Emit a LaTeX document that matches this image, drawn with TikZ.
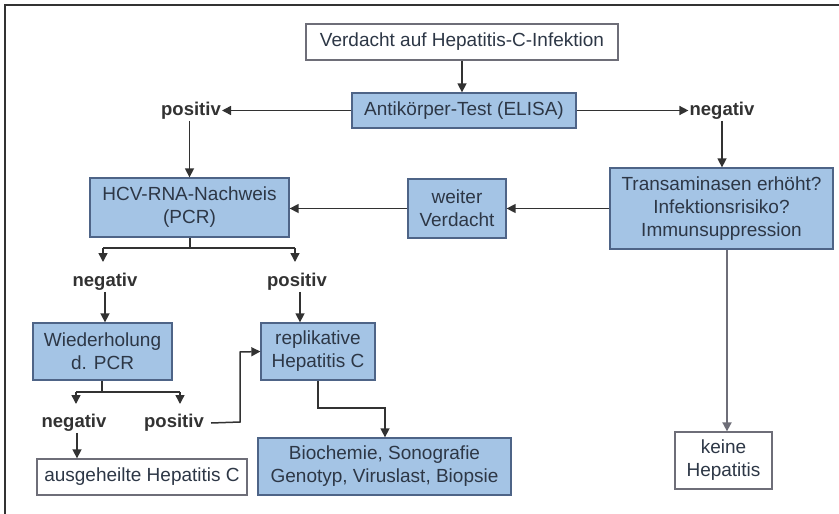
\documentclass[tikz,border=0pt]{standalone}
\usepackage{fontspec}
\setmainfont{Liberation Sans}
\usetikzlibrary{arrows.meta}
\definecolor{boxblue}{RGB}{164,196,229}
\definecolor{boxedge}{RGB}{78,100,135}
\definecolor{txt}{RGB}{45,55,70}
\definecolor{wedge}{RGB}{110,110,120}
\definecolor{ln}{RGB}{50,50,50}
\tikzset{
  bluebox/.style={draw=boxedge, line width=1.3pt, fill=boxblue, text=txt, align=center, inner sep=0pt,
    font=\fontsize{19}{23}\selectfont},
  whitebox/.style={draw=wedge, line width=1.3pt, fill=white, text=txt, align=center, inner sep=0pt,
    font=\fontsize{19}{23}\selectfont},
  lbl/.style={font=\bfseries\fontsize{18.5}{22}\selectfont, text=ln, inner sep=1pt},
  conn/.style={draw=ln, line width=1.5pt, -{Triangle[length=9pt,width=9pt]}},
  plain/.style={draw=ln, line width=1.5pt}
}
\begin{document}
\begin{tikzpicture}[x=1pt,y=-1pt]
\useasboundingbox (0,0) rectangle (839,514);
% frame (top and left only)
\draw[line width=1.5pt, ln] (5,514) -- (5,5) -- (839,5);

% boxes
\node[whitebox, minimum width=312pt, minimum height=36pt] (verd) at (462,42) {Verdacht auf Hepatitis-C-Infektion};
\node[bluebox, minimum width=224pt, minimum height=35pt] (anti) at (464,110.5) {Antikörper-Test (ELISA)};
\node[bluebox, minimum width=199pt, minimum height=59pt] (hcv) at (189.5,207.5) {HCV-RNA-Nachweis\\(PCR)};
\node[bluebox, minimum width=98pt, minimum height=59pt] (weiter) at (457,208.5) {weiter\\Verdacht};
\node[bluebox, minimum width=223pt, minimum height=81pt] (trans) at (721.5,208.5) {Transaminasen erhöht?\\Infektionsrisiko?\\Immunsuppression};
\node[whitebox, minimum width=97pt, minimum height=57pt] (keine) at (723.5,460.5) {keine\\Hepatitis};
\node[bluebox, minimum width=139pt, minimum height=57pt] (wied) at (102.5,351.5) {Wiederholung\\d. PCR};
\node[bluebox, minimum width=114pt, minimum height=57pt] (repl) at (318,351.5) {replikative\\Hepatitis C};
\node[whitebox, minimum width=210pt, minimum height=36pt] (aus) at (142,477) {ausgeheilte Hepatitis C};
\node[bluebox, minimum width=253pt, minimum height=57pt] (bio) at (384.5,466.5) {Biochemie, Sonografie\\Genotyp, Viruslast, Biopsie};

% labels
\node[lbl] (pos1) at (191,111) {positiv};
\node[lbl] (neg1) at (722,111) {negativ};
\node[lbl] (neg2) at (105,282) {negativ};
\node[lbl] (pos2) at (297,282) {positiv};
\node[lbl] (neg3) at (74,423) {negativ};
\node[lbl] (pos3) at (174,423) {positiv};

% helper coordinates
\coordinate (s1) at (190,248);
\coordinate (s1l) at (103,248);
\coordinate (s1r) at (295,248);
\coordinate (s1le) at (103,262);
\coordinate (s1re) at (295,262);
\coordinate (s2) at (102,392);
\coordinate (s2l) at (76,392);
\coordinate (s2r) at (180,392);
\coordinate (s2le) at (76,404);
\coordinate (s2re) at (180,404);
\coordinate (p3a) at (240,422);
\coordinate (p3b) at (240,352);
\coordinate (r1) at (318,408);
\coordinate (r2) at (385,408);

% connectors
\draw[conn] (verd.south) -- (verd.south |- anti.north);
\draw[conn] (anti.west) -- (anti.west -| pos1.east);
\draw[conn] (anti.east) -- (anti.east -| neg1.west);
\draw[conn] (pos1.south -| hcv.north) -- (hcv.north);
\draw[conn] (neg1.south) -- (neg1.south |- trans.north);
\draw[conn] (trans.west |- weiter.east) -- (weiter.east);
\draw[conn] (weiter.west) -- (weiter.west -| hcv.east);
\draw[conn, draw=wedge, line width=1.8pt] (trans.south -| 727,0) -- (keine.north -| 727,0);

\draw[plain] (hcv.south -| s1) -- (s1);
\draw[plain] (s1l) -- (s1r);
\draw[conn] (s1l) -- (s1le);
\draw[conn] (s1r) -- (s1re);
\draw[conn] (neg2.south -| 105,0) -- (wied.north -| 105,0);
\draw[conn] (pos2.south -| 300,0) -- (repl.north -| 300,0);

\draw[plain] (wied.south -| s2) -- (s2);
\draw[plain] (s2l) -- (s2r);
\draw[conn] (s2l) -- (s2le);
\draw[conn] (s2r) -- (s2re);
\draw[conn] (neg3.south -| 77,0) -- (aus.north -| 77,0);

\draw[conn] (pos3.east) ++(6,0) -- (p3a) -- (p3b) -- (repl.west);
\draw[conn] (repl.south) -- (r1) -- (r2) -- (r2 |- bio.north);
\end{tikzpicture}
\end{document}
